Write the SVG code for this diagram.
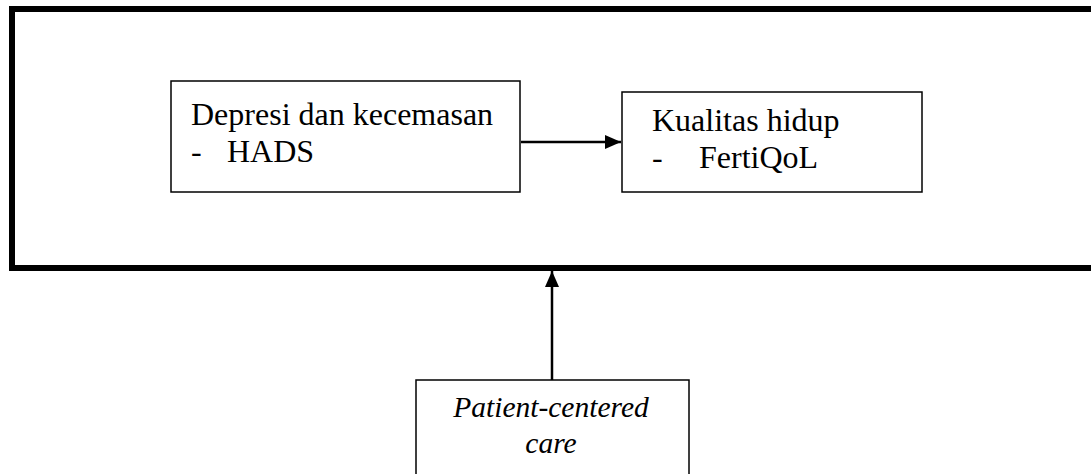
<svg xmlns="http://www.w3.org/2000/svg" width="1091" height="474" viewBox="0 0 1091 474">
<style>
.box{fill:#fff;stroke:#000;stroke-width:1.5}
.frame{fill:none;stroke:#000;stroke-width:6}
.t{font-family:"Liberation Serif","Times New Roman",serif;font-size:32px;fill:#000}
.i{font-style:italic;font-size:29.5px}
.c{stroke:#000;stroke-width:2.5;fill:none}
</style>
<defs>
<marker id="ah" viewBox="0 0 16 14" refX="16" refY="7" markerWidth="16" markerHeight="14" markerUnits="userSpaceOnUse" orient="auto">
<path d="M0,0 L16,7 L0,14 z" fill="#000"/>
</marker>
</defs>
<g id="frame">
<path class="frame" d="M1095,9 L12,9 L12,268 L1095,268"/>
</g>
<g id="node-depresi">
<rect class="box" x="171" y="81" width="349" height="111"/>
<text class="t" x="191" y="125">Depresi dan kecemasan</text>
<text class="t" x="191" y="162">-</text>
<text class="t" x="227" y="162">HADS</text>
</g>
<g id="node-kualitas">
<rect class="box" x="622" y="92" width="300" height="100"/>
<text class="t" x="652" y="131">Kualitas hidup</text>
<text class="t" x="652" y="168">-</text>
<text class="t" x="699" y="168">FertiQoL</text>
</g>
<g id="node-pcc">
<rect class="box" x="416" y="380" width="273" height="100"/>
<text class="t i" x="551" y="417" text-anchor="middle">Patient-centered</text>
<text class="t i" x="551" y="453" text-anchor="middle">care</text>
</g>
<g id="connectors">
<line class="c" x1="521" y1="142" x2="621" y2="142" marker-end="url(#ah)"/>
<line class="c" x1="552" y1="380" x2="552" y2="271" marker-end="url(#ah)"/>
</g>
</svg>
